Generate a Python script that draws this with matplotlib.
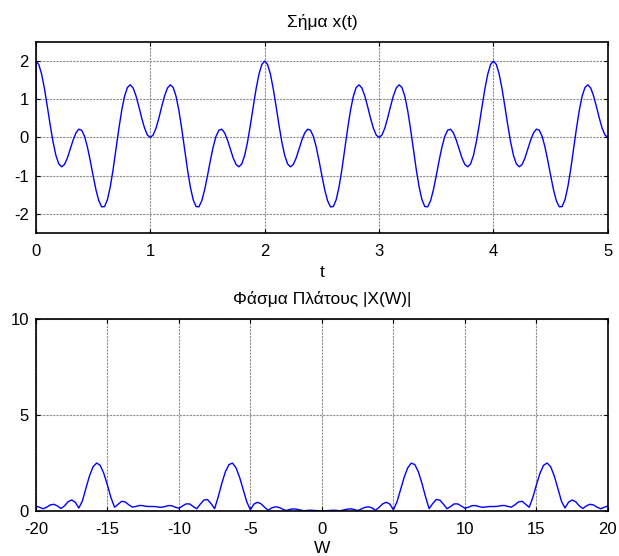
import numpy as np
import matplotlib
matplotlib.use('Agg')
import matplotlib.pyplot as plt

plt.rcParams['font.family'] = ['Liberation Sans', 'DejaVu Sans']
plt.rcParams['font.size'] = 12
plt.rcParams['axes.unicode_minus'] = False

# x(t), step 0.025 from t=0 to t=5 (first point drawn from 1 at t=0)
t = np.r_[0.0, np.arange(201) * 0.025]
x_t = [1.0,
       2.000, 1.912, 1.658, 1.274, 0.809, 0.324, -0.119, -0.470, -0.691, -0.768,
       -0.707, -0.539, -0.309, -0.071, 0.119, 0.217, 0.191, 0.033, -0.244, -0.605,
       -1.000, -1.370, -1.658, -1.815, -1.809, -1.631, -1.295, -0.837, -0.309, 0.226,
       0.707, 1.080, 1.309, 1.378, 1.295, 1.090, 0.809, 0.508, 0.244, 0.064, 0.000,
       0.064, 0.244, 0.508, 0.809, 1.090, 1.295, 1.378, 1.309, 1.080, 0.707,
       0.226, -0.309, -0.837, -1.295, -1.631, -1.809, -1.815, -1.658, -1.370, -1.000,
       -0.605, -0.244, 0.033, 0.191, 0.217, 0.119, -0.071, -0.309, -0.539, -0.707,
       -0.768, -0.691, -0.470, -0.119, 0.324, 0.809, 1.274, 1.658, 1.912, 2.000,
       1.912, 1.658, 1.274, 0.809, 0.324, -0.119, -0.470, -0.691, -0.768,
       -0.707, -0.539, -0.309, -0.071, 0.119, 0.217, 0.191, 0.033, -0.244, -0.605,
       -1.000, -1.370, -1.658, -1.815, -1.809, -1.631, -1.295, -0.837, -0.309, 0.226,
       0.707, 1.080, 1.309, 1.378, 1.295, 1.090, 0.809, 0.508, 0.244, 0.064, 0.000,
       0.064, 0.244, 0.508, 0.809, 1.090, 1.295, 1.378, 1.309, 1.080, 0.707,
       0.226, -0.309, -0.837, -1.295, -1.631, -1.809, -1.815, -1.658, -1.370, -1.000,
       -0.605, -0.244, 0.033, 0.191, 0.217, 0.119, -0.071, -0.309, -0.539, -0.707,
       -0.768, -0.691, -0.470, -0.119, 0.324, 0.809, 1.274, 1.658, 1.912, 2.000,
       1.912, 1.658, 1.274, 0.809, 0.324, -0.119, -0.470, -0.691, -0.768,
       -0.707, -0.539, -0.309, -0.071, 0.119, 0.217, 0.191, 0.033, -0.244, -0.605,
       -1.000, -1.370, -1.658, -1.815, -1.809, -1.631, -1.295, -0.837, -0.309, 0.226,
       0.707, 1.080, 1.309, 1.378, 1.295, 1.090, 0.809, 0.508, 0.244, 0.064, 0.000]

# |X(W)|, step 0.25 from W=-20 to W=20
W = np.arange(-80, 81) * 0.25
mag_neg = [0.254, 0.194, 0.115, 0.193, 0.312, 0.348, 0.266, 0.128, 0.267, 0.483,
           0.573, 0.456, 0.153, 0.517, 1.188, 1.833, 2.307, 2.500, 2.376, 1.960,
           1.353, 0.697, 0.194, 0.349, 0.505, 0.470, 0.320, 0.200, 0.237, 0.287,
           0.275, 0.238, 0.230, 0.234, 0.212, 0.189, 0.226, 0.280, 0.275, 0.195,
           0.142, 0.259, 0.368, 0.367, 0.232, 0.116, 0.358, 0.566, 0.597, 0.385,
           0.119, 0.737, 1.435, 2.040, 2.418, 2.495, 2.244, 1.742, 1.104, 0.469,
           0.064, 0.360, 0.453, 0.370, 0.188, 0.035, 0.162, 0.217, 0.185, 0.098,
           0.021, 0.081, 0.108, 0.091, 0.047, 0.010, 0.032, 0.037, 0.024, 0.008]
mag_pos = [0.000, 0.008, 0.024, 0.037, 0.032, 0.010, 0.047, 0.091, 0.108, 0.081,
           0.021, 0.098, 0.185, 0.217, 0.162, 0.035, 0.188, 0.370, 0.453, 0.360,
           0.064, 0.469, 1.104, 1.742, 2.244, 2.495, 2.418, 2.040, 1.435, 0.737,
           0.119, 0.385, 0.597, 0.566, 0.358, 0.116, 0.232, 0.367, 0.368, 0.259,
           0.142, 0.195, 0.275, 0.280, 0.226, 0.189, 0.212, 0.234, 0.230, 0.238,
           0.275, 0.287, 0.237, 0.200, 0.320, 0.470, 0.505, 0.349, 0.194, 0.697,
           1.353, 1.960, 2.376, 2.500, 2.307, 1.833, 1.188, 0.517, 0.153, 0.456,
           0.573, 0.483, 0.267, 0.128, 0.266, 0.348, 0.312, 0.193, 0.115, 0.194,
           0.254]
mag = mag_neg + mag_pos

t_ticks = [0, 1, 2, 3, 4, 5]
x_ticks = [-2, -1, 0, 1, 2]
w_ticks = [-20, -15, -10, -5, 0, 5, 10, 15, 20]
m_ticks = [0, 5, 10]

fig = plt.figure(figsize=(6.19, 5.56), dpi=100)
ax1 = fig.add_axes([0.058, 0.581, 0.924, 0.3435])
ax2 = fig.add_axes([0.058, 0.081, 0.924, 0.345])


def style(ax):
    ax.grid(True, linestyle=(0, (2, 1)), color='0.55', linewidth=0.8)
    ax.tick_params(direction='in', top=True, right=True, length=3, width=0.8)
    ax.tick_params(axis='y', pad=5)
    ax.tick_params(axis='x', pad=8)
    for s in ax.spines.values():
        s.set_linewidth(1.2)


ax1.plot(t, x_t, color='blue', linewidth=1)
ax1.set_xlim(0, 5)
ax1.set_ylim(-2.5, 2.5)
ax1.set_xticks(t_ticks)
ax1.set_yticks(x_ticks)
ax1.set_title('Σήμα x(t)', fontsize=12.5, pad=11)
ax1.set_xlabel('t', fontsize=12.5, labelpad=4)
style(ax1)

ax2.plot(W, mag, color='blue', linewidth=1)
ax2.set_xlim(-20, 20)
ax2.set_ylim(0, 10)
ax2.set_xticks(w_ticks)
ax2.set_yticks(m_ticks)
ax2.set_title('Φάσμα Πλάτους |X(W)|', fontsize=12.5, pad=11)
ax2.set_xlabel('W', fontsize=12.5, labelpad=3)
style(ax2)

fig.savefig('out.png', dpi=100)
